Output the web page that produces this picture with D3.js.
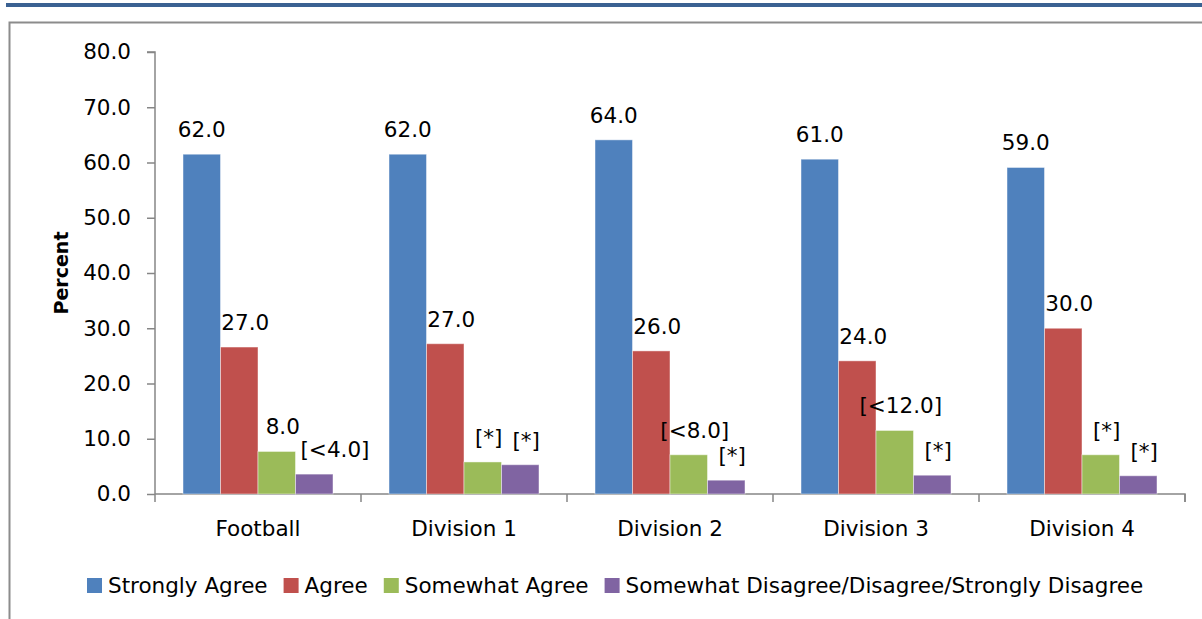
<!DOCTYPE html>
<html>
<head>
<meta charset="utf-8">
<script src="https://cdn.jsdelivr.net/npm/d3@7"></script>
<style>
  html, body { margin: 0; padding: 0; background: #fff; }
  svg { display: block; }
  text { font-family: "DejaVu Sans", sans-serif; fill: #000; }
</style>
</head>
<body>
<svg id="chart" width="1202" height="619"></svg>
<script>
// ---- data ----
const categories = ["Football", "Division 1", "Division 2", "Division 3", "Division 4"];
const seriesNames = ["Strongly Agree", "Agree", "Somewhat Agree", "Somewhat Disagree/Disagree/Strongly Disagree"];
const stronglyAgree = [61.5, 61.5, 64.1, 60.6, 59.1];
const agree = [26.6, 27.2, 25.9, 24.1, 30.0];
const somewhatAgree = [7.7, 5.8, 7.1, 11.5, 7.1];
const disagree = [3.6, 5.3, 2.5, 3.4, 3.3];
const stronglyAgreeLabels = ["62.0", "62.0", "64.0", "61.0", "59.0"];
const agreeLabels = ["27.0", "27.0", "26.0", "24.0", "30.0"];
const somewhatAgreeLabels = ["8.0", "[*]", "[<8.0]", "[<12.0]", "[*]"];
const disagreeLabels = ["[<4.0]", "[*]", "[*]", "[*]", "[*]"];
const yTicks = [0, 10, 20, 30, 40, 50, 60, 70, 80];
const colors = ["#4F81BD", "#C0504D", "#9BBB59", "#8064A2"];

const seriesValues = [stronglyAgree, agree, somewhatAgree, disagree];
const seriesLabels = [stronglyAgreeLabels, agreeLabels, somewhatAgreeLabels, disagreeLabels];

// ---- layout ----
const FS = 21.5;
const svg = d3.select("#chart");
const plot = { left: 155, right: 1185, top: 52, bottom: 494 };

// page decorations: header rule and frame
svg.append("rect").attr("x", 6).attr("y", 3).attr("width", 1196).attr("height", 4).attr("fill", "#3A6192");
svg.append("path")
  .attr("d", "M9.5,619 L9.5,22.5 L1202,22.5")
  .attr("fill", "none").attr("stroke", "#8C8C8C").attr("stroke-width", 2);

const x0 = d3.scaleBand().domain(categories).range([plot.left, plot.right]).paddingInner(0).paddingOuter(0);
const x1 = d3.scaleBand().domain(d3.range(seriesNames.length)).range([0, x0.bandwidth()]).paddingInner(0).paddingOuter(0.747);
const y = d3.scaleLinear().domain([0, 80]).range([plot.bottom, plot.top]);

// y axis
const yAxis = d3.axisLeft(y).tickValues(yTicks).tickFormat(d3.format(".1f")).tickSize(8).tickPadding(16);
const gy = svg.append("g").attr("transform", `translate(${plot.left},0)`).call(yAxis);
gy.select(".domain").attr("stroke", "#868686").attr("stroke-width", 1.5).attr("d", `M-8,${plot.top}H0V${plot.bottom}`);
gy.selectAll(".tick line").attr("stroke", "#868686").attr("stroke-width", 1.5);
gy.selectAll(".tick text").attr("font-size", FS).attr("font-family", "DejaVu Sans").attr("fill", "#000");

// x axis
const xAxis = d3.axisBottom(x0).tickSize(0).tickPadding(0);
const gx = svg.append("g").attr("transform", `translate(0,${plot.bottom})`).call(xAxis);
gx.select(".domain").attr("stroke", "#868686").attr("stroke-width", 1.5).attr("d", `M${plot.left},0H${plot.right}V8`);
gx.selectAll(".tick text").attr("font-size", FS).attr("font-family", "DejaVu Sans").attr("fill", "#000").attr("dy", 0).attr("y", 42);
// category separator ticks
const sepX = categories.map(c => x0(c)).concat([plot.right]);
gx.selectAll(".sep").data(sepX).enter().append("line")
  .attr("x1", d => d).attr("x2", d => d).attr("y1", 0).attr("y2", 8)
  .attr("stroke", "#868686").attr("stroke-width", 1.5);

// bars
const lastSeries = seriesValues.length - 1;
seriesValues.forEach((vals, si) => {
  const g = svg.append("g");
  g.selectAll("rect").data(vals).enter().append("rect")
    .attr("x", (d, i) => x0(categories[i]) + x1(si))
    .attr("y", d => y(d))
    .attr("width", x1.bandwidth())
    .attr("height", d => y(0) - y(d))
    .attr("fill", colors[si])
    .attr("stroke", "rgba(255,255,255,0.45)")
    .attr("stroke-width", 1);
  g.selectAll("text").data(vals).enter().append("text")
    .attr("x", (d, i) => x0(categories[i]) + x1(si) + x1.bandwidth() / 2 + (si === 0 ? 0 : 6))
    .attr("y", d => y(d) - 17)
    .attr("text-anchor", "middle")
    .attr("font-size", FS)
    .text((d, i) => seriesLabels[si][i])
    .each(function (d, i) {
      // wide labels on the last series start just inside the bar, clear of the neighbour
      if (si === lastSeries) {
        const w = this.getComputedTextLength();
        if (w > x1.bandwidth()) {
          d3.select(this).attr("text-anchor", "start").attr("x", x0(categories[i]) + x1(si) + 5);
        }
      }
    });
});

// y axis title
svg.append("text")
  .attr("transform", `translate(68,${(plot.top + plot.bottom) / 2}) rotate(-90)`)
  .attr("text-anchor", "middle")
  .attr("font-size", 19)
  .attr("font-weight", "bold")
  .text("Percent");

// legend
const legend = svg.append("g");
let lx = 87;
seriesNames.forEach((name, i) => {
  legend.append("rect").attr("x", lx).attr("y", 578).attr("width", 15).attr("height", 15).attr("fill", colors[i]);
  const t = legend.append("text").attr("x", lx + 21).attr("y", 593).attr("font-size", FS).text(name);
  lx += 21 + t.node().getComputedTextLength() + 16;
});
</script>
</body>
</html>
